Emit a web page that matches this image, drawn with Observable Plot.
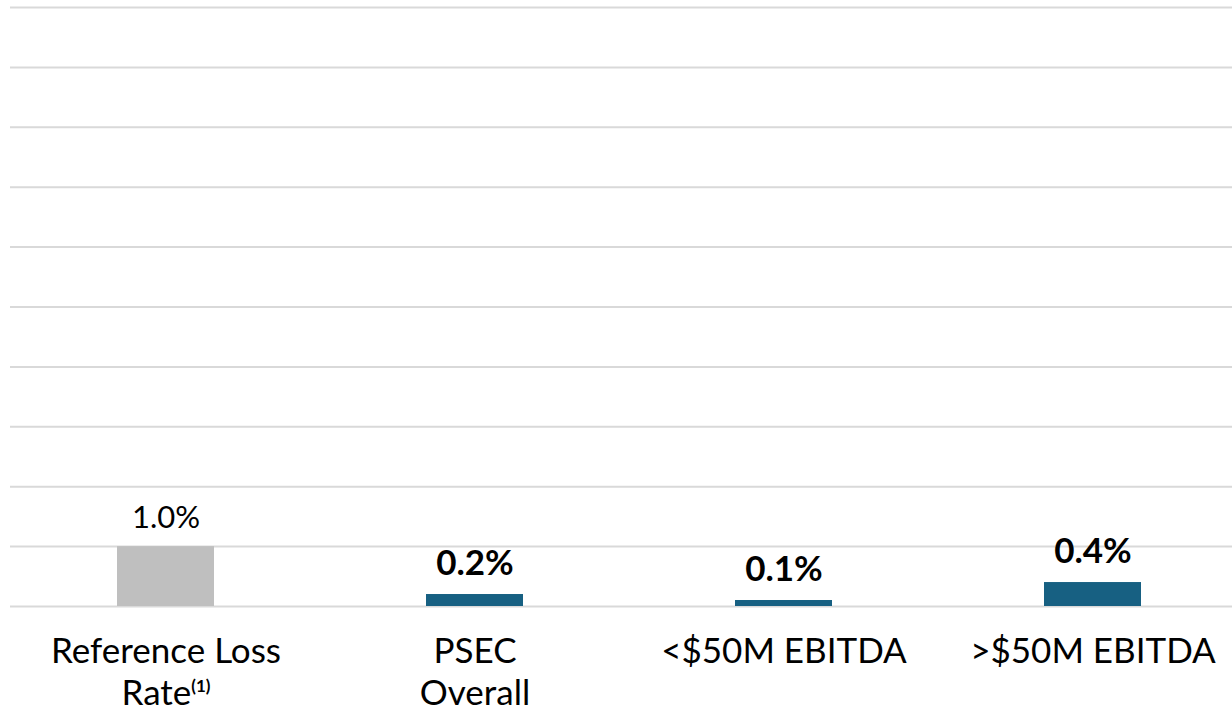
<!DOCTYPE html>
<html>
<head>
<meta charset="utf-8">
<script src="https://cdn.jsdelivr.net/npm/d3@7"></script>
<script src="https://cdn.jsdelivr.net/npm/@observablehq/plot@0.6"></script>
<style>
  html, body { margin: 0; padding: 0; background: #fff; overflow: hidden; }
  #chart { width: 1232px; height: 711px; }
</style>
</head>
<body>
<div id="chart"></div>
<script>
const categories = ["Reference Loss Rate", "PSEC Overall", "<$50M EBITDA", ">$50M EBITDA"];
const axisLabels = ["Reference Loss\nRate(1)", "PSEC\nOverall", "<$50M EBITDA", ">$50M EBITDA"];
const values = [1.0, 0.2, 0.1, 0.4];
const valueLabels = ["1.0%", "0.2%", "0.1%", "0.4%"];
const gridValues = [0, 1, 2, 3, 4, 5, 6, 7, 8, 9, 10];

const data = categories.map((c, i) => ({category: c, value: values[i], label: valueLabels[i], axis: axisLabels[i], idx: i}));

const GRAY = "#BFBFBF";
const BLUE = "#176082";
const FONT = "Lato, 'Open Sans', sans-serif";

const chart = Plot.plot({
  width: 1232,
  height: 711,
  marginLeft: 10,
  marginRight: 0,
  marginTop: 7,
  marginBottom: 105,
  style: {fontFamily: FONT, background: "#fff", overflow: "visible"},
  x: {domain: categories, range: [10, 1248], paddingInner: 0.685, paddingOuter: 0.3425, axis: null},
  y: {domain: [0, 10], range: [606, 7], axis: null},
  marks: [
    Plot.ruleY(gridValues, {stroke: "#D9D9D9", strokeWidth: 2}),
    Plot.barY(data, {x: "category", y: "value", fill: d => d.idx === 0 ? GRAY : BLUE}),
    Plot.text(data.filter(d => d.idx === 0), {x: "category", y: "value", text: "label", lineAnchor: "bottom", dy: -19, fontSize: 31, fill: "#000"}),
    Plot.text(data.filter(d => d.idx > 0), {x: "category", y: "value", text: "label", lineAnchor: "bottom", dy: -20, fontSize: 35, fontWeight: "bold", fill: "#000"}),
    Plot.text(data, {x: "category", frameAnchor: "bottom", text: "axis", lineAnchor: "top", dy: 27, fontSize: 35, lineHeight: 1.2, fill: "#000"})
  ]
});

document.getElementById("chart").appendChild(chart);

// superscript "(1)"
d3.select(chart).selectAll("tspan").each(function() {
  const t = d3.select(this);
  const s = t.text();
  if (s.endsWith("(1)")) {
    t.text(s.slice(0, -3));
    t.append("tspan").attr("dy", -13).attr("font-size", 17).attr("font-weight", "bold").text("(1)");
  }
});
</script>
</body>
</html>
